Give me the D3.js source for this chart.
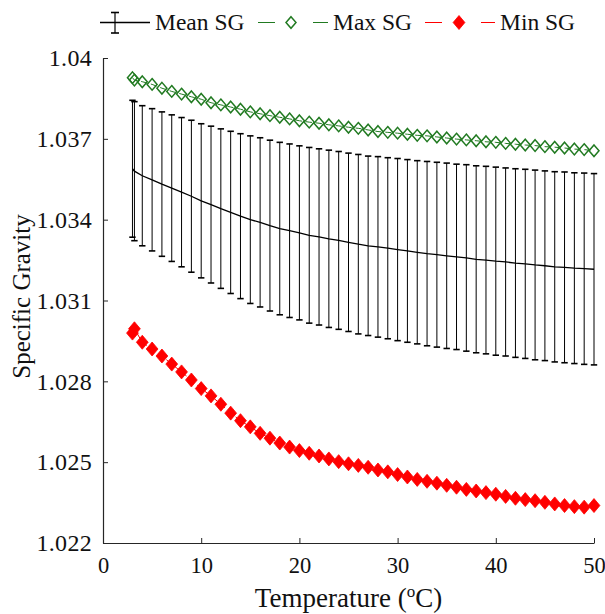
<!DOCTYPE html>
<html>
<head>
<meta charset="utf-8">
<script src="https://cdn.jsdelivr.net/npm/d3@7"></script>
<style>
  body { margin: 0; background: #fff; }
  svg { display: block; }
  text { font-family: "Liberation Serif", "Times New Roman", serif; fill: #111; }
</style>
</head>
<body>
<svg id="chart" width="605" height="614"></svg>
<script>
// Seawater specific gravity against temperature
const temperature = [3, 3.2, 4, 5, 6, 7, 8, 9, 10, 11, 12, 13, 14, 15, 16, 17, 18, 19, 20,
  21, 22, 23, 24, 25, 26, 27, 28, 29, 30, 31, 32, 33, 34, 35, 36, 37, 38, 39, 40,
  41, 42, 43, 44, 45, 46, 47, 48, 49, 50];

const meanSG = [1.03589, 1.03580, 1.03563, 1.03548, 1.03532, 1.03517, 1.03502, 1.03487, 1.03470,
  1.03456, 1.03441, 1.03427, 1.03413, 1.03400, 1.03390, 1.03378, 1.03367, 1.03359, 1.03351,
  1.03342, 1.03336, 1.03329, 1.03323, 1.03316, 1.03309, 1.03303, 1.03299, 1.03294, 1.03289,
  1.03284, 1.03279, 1.03274, 1.03270, 1.03266, 1.03262, 1.03258, 1.03253, 1.03250, 1.03246,
  1.03243, 1.03239, 1.03236, 1.03232, 1.03229, 1.03225, 1.03223, 1.03220, 1.03218, 1.03216];

const stdSG = [0.00254, 0.00258, 0.00260, 0.00264, 0.00268, 0.00272, 0.00277, 0.00282, 0.00286,
  0.00291, 0.00296, 0.00301, 0.00306, 0.00311, 0.00314, 0.00317, 0.00320, 0.00322, 0.00323,
  0.00326, 0.00327, 0.00329, 0.00330, 0.00331, 0.00333, 0.00333, 0.00335, 0.00336, 0.00338,
  0.00339, 0.00340, 0.00342, 0.00343, 0.00344, 0.00344, 0.00346, 0.00347, 0.00348, 0.00349,
  0.00349, 0.00350, 0.00351, 0.00352, 0.00352, 0.00353, 0.00354, 0.00354, 0.00355, 0.00355];

const maxSG = [1.03927, 1.03918, 1.03912, 1.03902, 1.03888, 1.03876, 1.03866, 1.03856, 1.03847,
  1.03834, 1.03826, 1.03818, 1.03810, 1.03800, 1.03793, 1.03786, 1.03780, 1.03774, 1.03767,
  1.03762, 1.03758, 1.03752, 1.03748, 1.03743, 1.03739, 1.03733, 1.03727, 1.03724, 1.03721,
  1.03717, 1.03713, 1.03711, 1.03707, 1.03703, 1.03699, 1.03696, 1.03693, 1.03689, 1.03687,
  1.03683, 1.03680, 1.03677, 1.03675, 1.03671, 1.03669, 1.03666, 1.03662, 1.03660, 1.03656];

const minSG = [1.02979, 1.02995, 1.02945, 1.02920, 1.02894, 1.02864, 1.02835, 1.02805, 1.02773,
  1.02746, 1.02715, 1.02682, 1.02654, 1.02631, 1.02607, 1.02589, 1.02571, 1.02556, 1.02543,
  1.02533, 1.02523, 1.02512, 1.02502, 1.02494, 1.02488, 1.02481, 1.02471, 1.02464, 1.02454,
  1.02445, 1.02436, 1.02429, 1.02422, 1.02414, 1.02407, 1.02399, 1.02393, 1.02387, 1.02381,
  1.02373, 1.02366, 1.02361, 1.02357, 1.02351, 1.02345, 1.02339, 1.02335, 1.02333, 1.02339];

const xTicks = [0, 10, 20, 30, 40, 50];
const yTicks = [1.022, 1.025, 1.028, 1.031, 1.034, 1.037, 1.04];
const yTickLabels = ["1.022", "1.025", "1.028", "1.031", "1.034", "1.037", "1.04"];
const seriesNames = ["Mean SG", "Max SG", "Min SG"];

const GREEN = "#217a21";
const RED = "#ff0000";
const AXIS = "#262626";
const SERIF = "Liberation Serif, Times New Roman, serif";

const svg = d3.select("#chart");
const margin = { left: 103, right: 11, top: 58, bottom: 71 };
const W = 605, H = 614;

const x = d3.scaleLinear().domain([0, 50]).range([margin.left, W - margin.right]);
const y = d3.scaleLinear().domain([1.022, 1.04]).range([H - margin.bottom, margin.top]);

const rows = temperature.map((t, i) => ({
  t, mean: meanSG[i], sd: stdSG[i], max: maxSG[i], min: minSG[i]
}));

// diamond marker path, half-width w and half-height h
const diamond = (w, h) => `M0,${-h}L${w},0L0,${h}L${-w},0Z`;

// ---- axes (ticks point inward, no box) ----
const yAxis = d3.axisLeft(y)
  .tickValues(yTicks)
  .tickFormat((d, i) => yTickLabels[i])
  .tickSizeInner(-5).tickSizeOuter(0).tickPadding(11);
const xAxis = d3.axisBottom(x)
  .tickValues(xTicks)
  .tickFormat(d3.format("d"))
  .tickSizeInner(-5).tickSizeOuter(0).tickPadding(14);

const gy = svg.append("g").attr("transform", `translate(${margin.left},0)`).call(yAxis);
const gx = svg.append("g").attr("transform", `translate(0,${H - margin.bottom})`).call(xAxis);
[gx, gy].forEach(g => {
  g.attr("font-family", SERIF);
  g.selectAll("path.domain").attr("stroke", AXIS).attr("stroke-width", 1.2);
  g.selectAll(".tick line").attr("stroke", AXIS).attr("stroke-width", 1);
  g.selectAll("text").attr("fill", "#111");
});
gy.attr("font-size", 24).selectAll("text").attr("letter-spacing", 0.3);
gx.attr("font-size", 22.5);

// axis titles
svg.append("text")
  .attr("transform", `translate(30,${(margin.top + H - margin.bottom) / 2 - 4}) rotate(-90)`)
  .attr("text-anchor", "middle")
  .attr("font-size", 25)
  .text("Specific Gravity");

const xt = svg.append("text")
  .attr("x", (x(0) + x(50)) / 2)
  .attr("y", 607)
  .attr("text-anchor", "middle")
  .attr("font-size", 27);
xt.append("tspan").text("Temperature (");
xt.append("tspan").attr("font-size", 17).attr("dy", -10).text("o");
xt.append("tspan").attr("dy", 10).text("C)");

// ---- mean with error bars ----
const eb = svg.append("g").attr("stroke", "#000").attr("stroke-width", 1).attr("fill", "none");
const capW = 3.2;
rows.forEach(d => {
  const cx = x(d.t), y1 = y(d.mean + d.sd), y2 = y(d.mean - d.sd);
  eb.append("line").attr("x1", cx).attr("x2", cx).attr("y1", y1).attr("y2", y2);
  eb.append("line").attr("x1", cx - capW).attr("x2", cx + capW).attr("y1", y1).attr("y2", y1).attr("stroke-width", 1.6);
  eb.append("line").attr("x1", cx - capW).attr("x2", cx + capW).attr("y1", y2).attr("y2", y2).attr("stroke-width", 1.6);
});

svg.append("path")
  .datum(rows)
  .attr("fill", "none")
  .attr("stroke", "#000")
  .attr("stroke-width", 1.3)
  .attr("d", d3.line().x(d => x(d.t)).y(d => y(d.mean)));

// ---- maximum: dashed green with open diamonds ----
svg.append("path")
  .datum(rows)
  .attr("fill", "none")
  .attr("stroke", GREEN)
  .attr("stroke-width", 1)
  .attr("stroke-dasharray", "6,4")
  .attr("d", d3.line().x(d => x(d.t)).y(d => y(d.max)));
svg.append("g").selectAll("path").data(rows).join("path")
  .attr("transform", d => `translate(${x(d.t)},${y(d.max)})`)
  .attr("d", diamond(5, 5.8))
  .attr("fill", "none")
  .attr("stroke", GREEN)
  .attr("stroke-width", 1.5);

// ---- minimum: dashed red with filled diamonds ----
svg.append("path")
  .datum(rows)
  .attr("fill", "none")
  .attr("stroke", RED)
  .attr("stroke-width", 1)
  .attr("stroke-dasharray", "6,4")
  .attr("d", d3.line().x(d => x(d.t)).y(d => y(d.min)));
svg.append("g").selectAll("path").data(rows).join("path")
  .attr("transform", d => `translate(${x(d.t)},${y(d.min)})`)
  .attr("d", diamond(5.9, 7))
  .attr("fill", RED)
  .attr("stroke", RED)
  .attr("stroke-width", 0.8);

// ---- legend ----
const leg = svg.append("g");
const ly = 22.5;
const legendFont = 23.5;
// mean entry: line with an error-bar glyph
leg.append("line").attr("x1", 100).attr("x2", 150).attr("y1", ly).attr("y2", ly).attr("stroke", "#000").attr("stroke-width", 1.3);
leg.append("line").attr("x1", 115).attr("x2", 115).attr("y1", 12.5).attr("y2", 33).attr("stroke", "#000").attr("stroke-width", 1.2);
[12.5, 33].forEach(v => leg.append("line").attr("x1", 111).attr("x2", 119).attr("y1", v).attr("y2", v).attr("stroke", "#000").attr("stroke-width", 1.6));
leg.append("text").attr("x", 155).attr("y", ly).attr("dy", "0.34em").attr("font-size", legendFont).text(seriesNames[0]);

// max entry
[[258, 275], [313, 328]].forEach(s => leg.append("line").attr("x1", s[0]).attr("x2", s[1]).attr("y1", ly).attr("y2", ly).attr("stroke", GREEN).attr("stroke-width", 1));
leg.append("path").attr("transform", `translate(291,${ly})`).attr("d", diamond(5, 5.8)).attr("fill", "none").attr("stroke", GREEN).attr("stroke-width", 1.5);
leg.append("text").attr("x", 333).attr("y", ly).attr("dy", "0.34em").attr("font-size", legendFont).text(seriesNames[1]);

// min entry
[[425, 442], [481, 495]].forEach(s => leg.append("line").attr("x1", s[0]).attr("x2", s[1]).attr("y1", ly).attr("y2", ly).attr("stroke", RED).attr("stroke-width", 1));
leg.append("path").attr("transform", `translate(459,${ly})`).attr("d", diamond(5.9, 7)).attr("fill", RED).attr("stroke", RED).attr("stroke-width", 0.8);
leg.append("text").attr("x", 500).attr("y", ly).attr("dy", "0.34em").attr("font-size", legendFont).text(seriesNames[2]);
</script>
</body>
</html>
